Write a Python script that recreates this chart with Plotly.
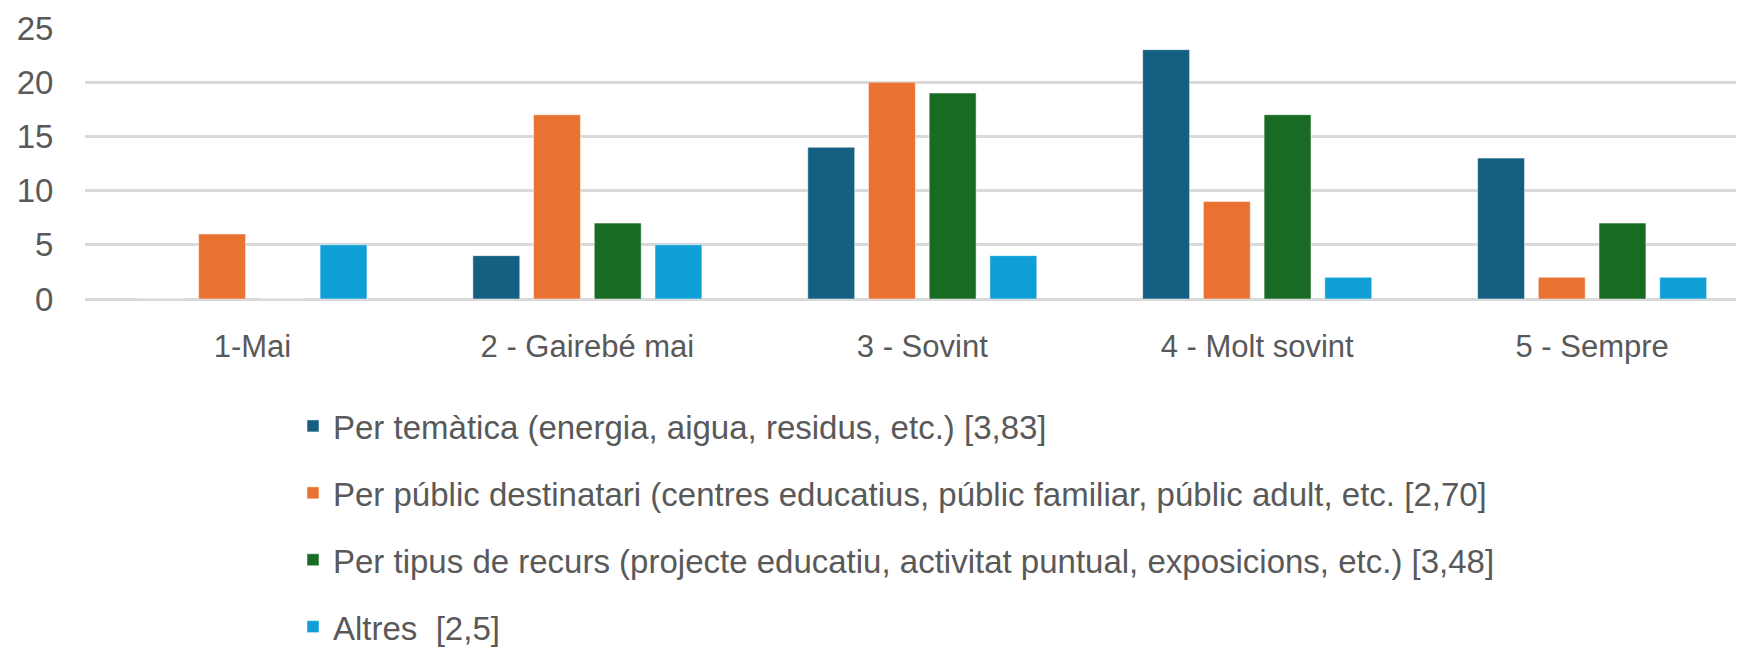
import plotly.graph_objects as go

categories = ["1-Mai", "2 - Gairebé mai", "3 - Sovint", "4 - Molt sovint", "5 - Sempre"]
series_names = [
    "Per temàtica (energia, aigua, residus, etc.) [3,83]",
    "Per públic destinatari (centres educatius, públic familiar, públic adult, etc. [2,70]",
    "Per tipus de recurs (projecte educatiu, activitat puntual, exposicions, etc.) [3,48]",
    "Altres  [2,5]",
]
tematica = [0, 4, 14, 23, 13]
public = [6, 17, 20, 9, 2]
tipus = [0, 7, 19, 17, 7]
altres = [5, 5, 4, 2, 2]
colors = ["#156082", "#E97132", "#196B24", "#0F9ED5"]
y_ticks = [0, 5, 10, 15, 20, 25]

# page has an 8px body margin; the figure is sized to fill the rest of the window
W, H = 1736, 643
FONT = "Liberation Sans"
GRAY = "#595959"

fig = go.Figure()
for i, (name, vals) in enumerate(zip(series_names, [tematica, public, tipus, altres])):
    fig.add_trace(go.Bar(
        x=categories, y=vals, name=name, legendgroup=f"g{i}",
        marker=dict(color=colors[i], line=dict(width=1, color="rgba(255,255,255,0.5)")),
    ))

fig.update_layout(
    width=W, height=H,
    margin=dict(l=77, r=0, t=19.5, b=351.5, autoexpand=False),
    plot_bgcolor="white", paper_bgcolor="white",
    barmode="group", bargap=0.275, bargroupgap=0.227,
    font=dict(family=FONT, color=GRAY, size=31),
    showlegend=True,
    legend=dict(
        xref="container", yref="container",
        x=285 / W, y=1 - 390 / H, xanchor="left", yanchor="top",
        orientation="v", tracegroupgap=21, traceorder="grouped",
        font=dict(family=FONT, size=33, color=GRAY),
        bgcolor="rgba(0,0,0,0)", borderwidth=0,
    ),
)
fig.update_xaxes(
    type="category", range=[-0.5, 4.4535],
    showgrid=False, showline=False, zeroline=False,
    ticks="outside", ticklen=20, tickcolor="rgba(0,0,0,0)",
    tickfont=dict(family=FONT, size=31, color=GRAY),
)
fig.update_yaxes(
    range=[0, 25], tickvals=y_ticks,
    showgrid=True, gridcolor="#d9d9d9", gridwidth=2.5,
    zeroline=True, zerolinecolor="#d9d9d9", zerolinewidth=2.5,
    showline=False,
    ticks="outside", ticklen=24, tickcolor="rgba(0,0,0,0)",
    tickfont=dict(family=FONT, size=33, color=GRAY),
)

fig.write_html("out.html")
